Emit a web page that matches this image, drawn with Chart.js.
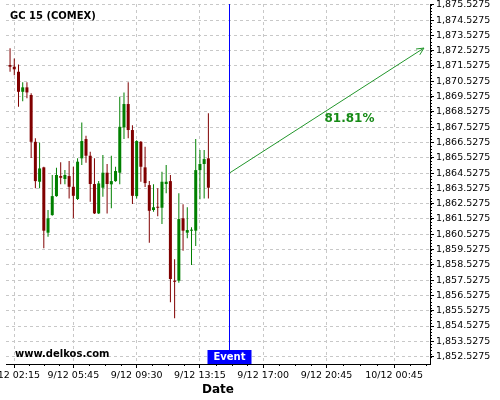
<!DOCTYPE html>
<html>
<head>
<meta charset="utf-8">
<style>
  html, body { margin: 0; padding: 0; background: #fff; }
</style>
</head>
<body>
<canvas id="chart" width="500" height="400"></canvas>
<script src="https://cdn.jsdelivr.net/npm/chart.js@4/dist/chart.umd.min.js"></script>
<script>
// 15 minute candles, 9/12
const candleTimes = [
  "02:00", "02:15", "02:30", "02:45", "03:00", "03:15", "03:30", "03:45",
  "04:00", "04:15", "04:30", "04:45", "05:00", "05:15", "05:30", "05:45",
  "06:00", "06:15", "06:30", "06:45", "07:00", "07:15", "07:30", "07:45",
  "08:00", "08:15", "08:30", "08:45", "09:00", "09:15", "09:30", "09:45",
  "10:00", "10:15", "10:30", "10:45", "11:00", "11:15", "11:30", "11:45",
  "12:00", "12:15", "12:30", "12:45", "13:00", "13:15", "13:30", "13:45"
];
const opens = [
  1871.59, 1871.48, 1871.15, 1869.84, 1870.13, 1869.63, 1866.57, 1863.96,
  1864.90, 1860.63, 1861.78, 1863.02, 1864.33, 1864.14, 1864.33, 1863.63,
  1862.83, 1865.49, 1866.75, 1865.66, 1863.81, 1861.89, 1863.57, 1864.55,
  1863.79, 1864.00, 1864.55, 1867.51, 1869.04, 1867.34, 1863.02, 1866.57,
  1864.90, 1863.74, 1862.11, 1862.30, 1862.26, 1863.81, 1864.00, 1857.49,
  1857.49, 1861.57, 1860.63, 1860.76, 1860.76, 1864.72, 1865.12, 1865.49
];
const highs = [
  1872.68, 1872.02, 1871.63, 1870.46, 1870.46, 1869.74, 1866.80, 1866.53,
  1864.94, 1862.11, 1864.40, 1864.87, 1865.23, 1864.72, 1865.31, 1864.94,
  1865.49, 1867.84, 1866.97, 1865.92, 1865.49, 1864.00, 1865.70, 1865.12,
  1865.66, 1864.94, 1869.51, 1869.80, 1870.46, 1867.66, 1866.68, 1866.62,
  1866.25, 1864.00, 1863.79, 1863.53, 1864.61, 1865.05, 1864.40, 1858.89,
  1863.20, 1862.48, 1862.29, 1860.98, 1866.75, 1866.03, 1866.03, 1868.43
];
const lows = [
  1871.15, 1870.93, 1868.86, 1869.23, 1869.41, 1865.51, 1863.53, 1863.53,
  1859.61, 1860.36, 1861.74, 1862.98, 1863.79, 1863.79, 1862.87, 1861.57,
  1862.76, 1865.05, 1865.20, 1862.65, 1861.85, 1861.85, 1862.98, 1861.89,
  1862.22, 1863.96, 1863.79, 1866.75, 1866.80, 1862.50, 1862.87, 1863.96,
  1863.61, 1859.97, 1862.00, 1861.70, 1861.19, 1863.20, 1856.08, 1855.03,
  1857.36, 1859.45, 1860.26, 1858.51, 1859.76, 1862.81, 1862.87, 1862.87
];
const closes = [
  1871.48, 1871.31, 1869.84, 1870.13, 1869.80, 1866.57, 1864.00, 1864.83,
  1860.76, 1861.57, 1863.02, 1864.40, 1864.22, 1864.40, 1863.63, 1863.04,
  1865.27, 1866.62, 1865.66, 1863.81, 1861.89, 1863.85, 1864.55, 1863.81,
  1864.00, 1864.66, 1867.55, 1869.04, 1867.34, 1863.04, 1866.62, 1864.94,
  1863.87, 1862.06, 1862.29, 1862.26, 1863.96, 1863.96, 1857.60, 1857.42,
  1861.52, 1860.76, 1860.80, 1860.80, 1864.72, 1865.12, 1865.44, 1863.57
];

// x axis is hours from 9/12 00:00
const xTickHours = [2.25, 5.75, 9.5, 13.25, 17, 20.75, 24.75];
const xTickLabels = ["9/12 02:15", "9/12 05:45", "9/12 09:30", "9/12 13:15", "9/12 17:00", "9/12 20:45", "10/12 00:45"];
const yTickValues = [
  1852.5275, 1853.5275, 1854.5275, 1855.5275, 1856.5275, 1857.5275,
  1858.5275, 1859.5275, 1860.5275, 1861.5275, 1862.5275, 1863.5275,
  1864.5275, 1865.5275, 1866.5275, 1867.5275, 1868.5275, 1869.5275,
  1870.5275, 1871.5275, 1872.5275, 1873.5275, 1874.5275, 1875.5275
];

const eventHour = 15;
const forecastFrom = { x: 15, y: 1864.53 };
const forecastTo = { x: 26.52, y: 1872.70 };
const forecastText = "81.81%";
const forecastTextPos = { x: 22.11, y: 1868.09 };

const RED = "#800000";
const GREEN = "#008000";
const FONT = '"DejaVu Sans", sans-serif';

const hours = candleTimes.map(t => {
  const p = t.split(":");
  return Number(p[0]) + Number(p[1]) / 60;
});
const colors = opens.map((o, i) => (closes[i] >= o ? GREEN : RED));

function fmtPrice(v) {
  const s = v.toFixed(4).split(".");
  return s[0].replace(/\B(?=(\d{3})+(?!\d))/g, ",") + "." + s[1];
}

const extras = {
  id: "extras",
  afterDatasetsDraw(chart) {
    const { ctx, chartArea, scales } = chart;
    const x = scales.x, y = scales.y;
    ctx.save();

    // minor ticks
    ctx.strokeStyle = "#000";
    ctx.lineWidth = 1;
    ctx.beginPath();
    for (let i = 0; i < xTickHours.length - 1; i++) {
      const a = xTickHours[i], b = xTickHours[i + 1];
      for (let k = 1; k < 4; k++) {
        const px = Math.round(x.getPixelForValue(a + (b - a) * k / 4)) + 0.5;
        ctx.moveTo(px, chartArea.bottom);
        ctx.lineTo(px, chartArea.bottom + 2);
      }
    }
    for (let h = 24.75 + 0.9375; h < x.max; h += 0.9375) {
      const px = Math.round(x.getPixelForValue(h)) + 0.5;
      ctx.moveTo(px, chartArea.bottom);
      ctx.lineTo(px, chartArea.bottom + 2);
    }
    for (let k = 0; yTickValues[0] + k * 0.2 <= y.max; k++) {
      const py = Math.round(y.getPixelForValue(yTickValues[0] + k * 0.2)) + 0.5;
      ctx.moveTo(chartArea.right, py);
      ctx.lineTo(chartArea.right + 2, py);
    }
    ctx.stroke();

    // event line and label
    const ex = Math.round(x.getPixelForValue(eventHour)) + 0.5;
    ctx.strokeStyle = "#0000ff";
    ctx.beginPath();
    ctx.moveTo(ex, chartArea.top);
    ctx.lineTo(ex, chartArea.bottom);
    ctx.stroke();
    ctx.fillStyle = "#0000ff";
    ctx.fillRect(ex - 22, chartArea.bottom - 14, 44, 14);
    ctx.fillStyle = "#fff";
    ctx.font = "bold 10px " + FONT;
    ctx.textAlign = "center";
    ctx.textBaseline = "middle";
    ctx.fillText("Event", ex, chartArea.bottom - 6.5);

    // arrow head
    const x1 = x.getPixelForValue(forecastFrom.x), y1 = y.getPixelForValue(forecastFrom.y);
    const x2 = x.getPixelForValue(forecastTo.x), y2 = y.getPixelForValue(forecastTo.y);
    const ang = Math.atan2(y2 - y1, x2 - x1);
    ctx.strokeStyle = "#22962b";
    ctx.beginPath();
    ctx.moveTo(x2 - 8 * Math.cos(ang - 0.45), y2 - 8 * Math.sin(ang - 0.45));
    ctx.lineTo(x2, y2);
    ctx.lineTo(x2 - 8 * Math.cos(ang + 0.45), y2 - 8 * Math.sin(ang + 0.45));
    ctx.stroke();

    ctx.fillStyle = "#168a16";
    ctx.font = "bold 12px " + FONT;
    ctx.fillText(forecastText, x.getPixelForValue(forecastTextPos.x), y.getPixelForValue(forecastTextPos.y));

    // title and watermark
    ctx.fillStyle = "#000";
    ctx.textAlign = "left";
    ctx.textBaseline = "alphabetic";
    ctx.font = "bold 10px " + FONT;
    ctx.fillText("GC 15 (COMEX)", chartArea.left + 4, 19);
    ctx.fillText("www.delkos.com", chartArea.left + 9, chartArea.bottom - 7);
    ctx.restore();
  }
};

new Chart(document.getElementById("chart"), {
  type: "bar",
  data: {
    datasets: [
      {
        label: "body",
        data: hours.map((h, i) => ({ x: h, y: [opens[i], closes[i]] })),
        backgroundColor: colors,
        borderWidth: 0,
        maxBarThickness: 3,
        minBarLength: 1,
        grouped: false,
      },
      {
        label: "wick",
        data: hours.map((h, i) => ({ x: h, y: [lows[i], highs[i]] })),
        backgroundColor: colors,
        borderWidth: 0,
        maxBarThickness: 1,
        grouped: false,
      },
      {
        type: "line",
        label: "forecast",
        data: [forecastFrom, forecastTo],
        borderColor: "#22962b",
        borderWidth: 1,
        pointRadius: 0,
      },
    ],
  },
  options: {
    responsive: false,
    animation: false,
    devicePixelRatio: 1,
    layout: { padding: { left: 6, top: 4, right: 0, bottom: 0 } },
    plugins: { legend: { display: false }, tooltip: { enabled: false } },
    scales: {
      x: {
        type: "linear",
        min: 1.76,
        max: 26.88,
        offset: false,
        afterBuildTicks: (s) => { s.ticks = xTickHours.map(v => ({ value: v })); },
        afterFit: (s) => { s.height = 36; s.paddingLeft = 0; s.paddingRight = 0; },
        grid: { offset: false, color: "#c8c8c8", tickColor: "#000", tickLength: 4 },
        border: { color: "#000", width: 1, dash: [3, 3] },
        ticks: {
          autoSkip: false,
          maxRotation: 0,
          padding: 2,
          color: "#000",
          font: { family: FONT, size: 9.5 },
          callback: (v) => xTickLabels[xTickHours.indexOf(v)],
        },
        title: {
          display: true,
          text: "Date",
          color: "#000",
          font: { family: FONT, size: 12, weight: "bold" },
          padding: { top: 0, bottom: 3 },
        },
      },
      y: {
        position: "right",
        min: 1852.044,
        max: 1875.58,
        afterBuildTicks: (s) => { s.ticks = yTickValues.map(v => ({ value: v })); },
        afterFit: (s) => { s.width = 70; s.paddingTop = 0; s.paddingBottom = 0; },
        grid: { color: "#c8c8c8", tickColor: "#000", tickLength: 4 },
        border: { color: "#000", width: 1, dash: [3, 3] },
        ticks: {
          autoSkip: false,
          padding: 2,
          color: "#000",
          font: { family: FONT, size: 9.5 },
          callback: (v) => fmtPrice(v),
        },
      },
    },
  },
  plugins: [extras],
});
</script>
</body>
</html>
